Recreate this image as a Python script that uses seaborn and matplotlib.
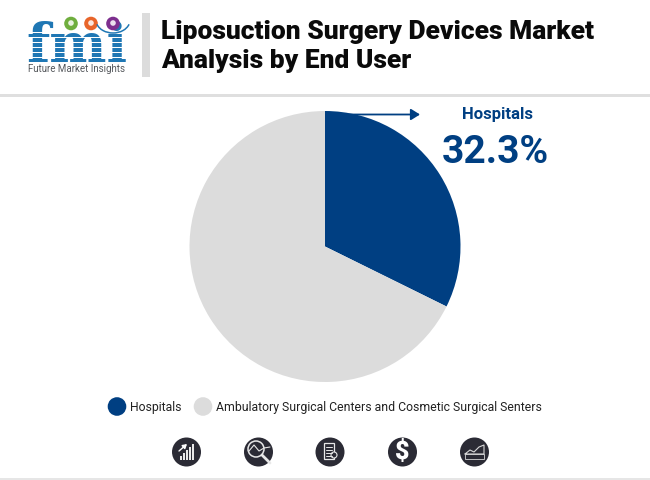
import matplotlib
matplotlib.use("Agg")
import matplotlib.pyplot as plt
from matplotlib.patches import Circle, Rectangle, Arc
import seaborn as sns

categories = ["Hospitals", "Ambulatory Surgical Centers and Cosmetic Surgical Senters"]
shares = [32.3, 67.7]
colors = ["#003f82", "#dcdcdc"]
title_lines = ["Liposuction Surgery Devices Market", "Analysis by End User"]

sns.set_theme(style="white")
plt.rcParams["font.family"] = ["Roboto", "DejaVu Sans"]

W, H = 650, 480
fig = plt.figure(figsize=(W / 100, H / 100), dpi=100, facecolor="white")

# overlay in pixel coordinates
bg = fig.add_axes([0, 0, 1, 1])
bg.set_xlim(0, W)
bg.set_ylim(H, 0)
bg.axis("off")

# pie
cx, cy, r = 325, 246.5, 135.5
pie_ax = fig.add_axes([(cx - r) / W, 1 - (cy + r) / H, 2 * r / W, 2 * r / H])
pie_ax.pie(shares, colors=sns.color_palette(colors), startangle=90, counterclock=False, radius=1.0,
           wedgeprops=dict(linewidth=0))
pie_ax.set_xlim(-1, 1)
pie_ax.set_ylim(-1, 1)

# rules
bg.add_patch(Rectangle((0, 94), W, 2.5, color="#dfdfdf", lw=0))
bg.add_patch(Rectangle((0, 478), W, 2, color="#e6e6e6", lw=0))
bg.add_patch(Rectangle((142, 13), 8, 64, color="#dcdcdc", lw=0))

# title
for line, y in zip(title_lines, [32, 61]):
    bg.text(161, y, line, fontsize=19, fontweight="black", color="#0a0a0a", va="center", ha="left")

# logo
logo_blue = "#1f77b4"
bg.text(76.5, 61.5, "fmi", fontsize=39, family="DejaVu Serif", fontweight="bold", color=logo_blue,
        ha="center", va="baseline")
for y in [31.5, 36.5, 41.5, 46.5, 51.5, 56.5]:
    bg.add_patch(Rectangle((24, y), 106, 1.1, color="white", lw=0, zorder=3))
for x, c in [(71, "#6fae3e"), (91, "#e8652a"), (113, "#7d2f8e")]:
    bg.add_patch(Circle((x, 23.5), 6.8, color=c, lw=0, zorder=4))
    bg.add_patch(Circle((x, 23), 2.8, color="white", lw=0, alpha=0.85, zorder=4))
bg.add_patch(Arc((113, 20), 34, 26, theta1=15, theta2=165, color=logo_blue, lw=1.1, zorder=4))
bg.text(76, 68.5, "Future Market Insights", fontsize=7.05, color="#55585c", ha="center", va="center")

# callout
bg.annotate("", xy=(420, 114.5), xytext=(325, 114.5),
            arrowprops=dict(arrowstyle="-|>,head_width=0.28,head_length=0.45", color=colors[0], lw=1.3,
                            shrinkA=0, shrinkB=0))
bg.text(497.5, 115, categories[0], fontsize=12, fontweight="bold", color=colors[0], ha="center", va="center")
bg.text(495, 152.5, f"{shares[0]}%", fontsize=28, fontweight="bold", color=colors[0], ha="center", va="center")

# legend
bg.add_patch(Circle((117, 406.5), 9.3, color=colors[0], lw=0))
bg.text(130, 407, categories[0], fontsize=8.85, color="#222222", ha="left", va="center")
bg.add_patch(Circle((203, 406.5), 9.3, color=colors[1], lw=0))
bg.text(215.5, 407, categories[1], fontsize=8.85, color="#222222", ha="left", va="center")

# icons
dark = "#2b2b35"
icon_x = [186.5, 258.5, 330, 402.5, 474.5]
icon_y = 452
for x in icon_x:
    bg.add_patch(Circle((x, icon_y), 14.5, color=dark, lw=0))
# bars icon
for i, h in enumerate([4, 7, 10, 13, 16]):
    bg.add_patch(Rectangle((180 + i * 3, icon_y + 8 - h), 1.8, h, color="#e8e8e8", lw=0))
bg.annotate("", xy=(187, 444), xytext=(179, 451),
            arrowprops=dict(arrowstyle="-|>,head_width=0.12,head_length=0.2", color="white", lw=1, shrinkA=0, shrinkB=0))
# magnifier icon
bg.add_patch(Circle((256, 449), 8, fill=False, ec="#e8e8e8", lw=1.1))
bg.plot([262, 270], [455, 463], color="#e8e8e8", lw=2)
bg.plot([249, 254, 259, 264, 270], [451, 445, 451, 448, 447], color="#e8e8e8", lw=0.8)
# document icon
bg.add_patch(Rectangle((323.5, 443), 10, 16, fill=False, ec="#e8e8e8", lw=0.9))
for y in [447, 450, 453, 456]:
    bg.plot([325.5, 331.5], [y, y], color="#e8e8e8", lw=0.7)
bg.add_patch(Circle((334, 455), 3, fill=True, fc=dark, ec="#e8e8e8", lw=0.8))
# dollar icon
bg.text(402.5, 452, "$", fontsize=18, fontweight="black", color="white", ha="center", va="center")
# chart icon
bg.add_patch(Rectangle((465, 454), 19, 5, fill=False, ec="#d8d8d8", lw=0.6))
bg.plot([465, 470, 474, 479, 484, 484, 465], [454, 450, 452, 447, 445, 454, 454], color="#d8d8d8", lw=0.8)

fig.savefig("out.png", dpi=100, facecolor="white")
